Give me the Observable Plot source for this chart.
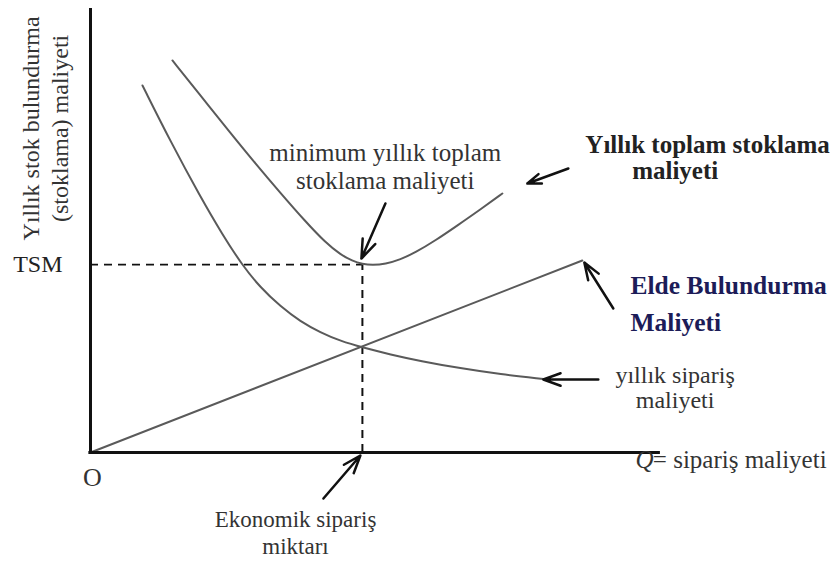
<!DOCTYPE html>
<html>
<head>
<meta charset="utf-8">
<script src="https://cdn.jsdelivr.net/npm/d3@7"></script>
<script src="https://cdn.jsdelivr.net/npm/@observablehq/plot@0.6"></script>
<style>
  html, body { margin: 0; padding: 0; background: #ffffff; }
  #chart svg { display: block; overflow: visible; }
</style>
</head>
<body>
<div id="chart"></div>
<script>
// ---- data (abstract units) ----
const orderQ    = [9.56, 14.71, 20.22, 24.26, 27.94, 31.25, 34.93, 38.6, 42.28, 45.96, 50, 55.15, 60.66, 68.01, 75.37, 83.27];
const orderCost = [82.66, 70.05, 57.55, 49.1, 42.12, 37.16, 32.88, 29.5, 27.03, 25.11, 23.65, 22.07, 20.59, 18.96, 17.61, 16.55];
const totalQ    = [15.07, 20.22, 25.74, 30.33, 34.93, 39.52, 43.2, 45.96, 48.16, 50, 51.84, 54.23, 56.99, 59.74, 63.42, 67.46, 71.69, 75.74];
const totalCost = [88.29, 80.41, 71.96, 65.09, 58.45, 52.03, 47.3, 44.59, 43.13, 42.45, 42.23, 42.45, 43.47, 45.05, 47.75, 51.13, 54.73, 58.33];
const holdQ     = [0, 90.44];
const holdCost  = [0, 43.24];
const EOQ = 50;
const TSM = 42.3;
const axisMaxQ = 104.8;
const axisMaxCost = 100;

// annotation arrows: start -> tip, in data units
const arrowX1 = [54.23, 87.87, 96.14, 93.38, 42.83];
const arrowY1 = [56.08, 63.96, 32.43, 16.44, -10.36];
const arrowX2 = [49.82, 80.33, 90.81, 83.27, 49.63];
const arrowY2 = [43.69, 60.59, 42.79, 16.44, -0.68];

// texts
const yTitle = "Yıllık stok bulundurma\n(stoklama) maliyeti";
const minLabel = "minimum yıllık toplam\nstoklama maliyeti";
const totalLabel = ["Yıllık toplam stoklama", "maliyeti"];
const holdLabel = ["Elde Bulundurma", "Maliyeti"];
const orderLabel = "yıllık sipariş\nmaliyeti";
const eoqLabel = "Ekonomik sipariş\nmiktarı";
const xLabelQ = "Q";
const xLabelRest = "= sipariş maliyeti";
const tsmLabel = "TSM";
const originLabel = "O";

// ---- build tables ----
const order = orderQ.map((q, i) => ({q, c: orderCost[i]}));
const total = totalQ.map((q, i) => ({q, c: totalCost[i]}));
const hold = holdQ.map((q, i) => ({q, c: holdCost[i]}));
const arrows = arrowX1.map((x1, i) => ({x1, y1: arrowY1[i], x2: arrowX2[i], y2: arrowY2[i]}));

const serif = "'Liberation Serif', 'Times New Roman', serif";
const textCol = "#333333";

const chart = Plot.plot({
  width: 840,
  height: 561,
  margin: 0,
  style: {background: "#ffffff", fontFamily: serif, overflow: "visible"},
  x: {domain: [0, 105], range: [90, 661], axis: null},
  y: {domain: [0, 100], range: [452, 8], axis: null},
  marks: [
    // dashed guides
    Plot.ruleY([TSM], {x1: 0, x2: EOQ, stroke: "#111", strokeWidth: 1.8, strokeDasharray: "8,6"}),
    Plot.ruleX([EOQ], {y1: 0, y2: TSM, stroke: "#111", strokeWidth: 2, strokeDasharray: "8,6"}),
    // cost curves
    Plot.line(hold, {x: "q", y: "c", stroke: "#5a5a5a", strokeWidth: 2}),
    Plot.line(order, {x: "q", y: "c", stroke: "#5a5a5a", strokeWidth: 2, curve: "basis"}),
    Plot.line(total, {x: "q", y: "c", stroke: "#5a5a5a", strokeWidth: 2, curve: "basis"}),
    // axes
    Plot.ruleX([0], {y1: 0, y2: axisMaxCost, stroke: "#111", strokeWidth: 3}),
    Plot.ruleY([0], {x1: -0.3, x2: axisMaxQ, stroke: "#111", strokeWidth: 3}),
    // arrows
    Plot.arrow(arrows, {x1: "x1", y1: "y1", x2: "x2", y2: "y2", stroke: "#111", strokeWidth: 2.5, headLength: 12, headAngle: 40}),
    // texts
    Plot.text([yTitle], {x: 0, y: 73, dx: -46, rotate: -90, fontSize: 24, lineHeight: 1.2, fill: textCol, textAnchor: "middle"}),
    Plot.text([tsmLabel], {x: 0, y: TSM, dx: -28, fontSize: 24, fill: "#222", textAnchor: "end"}),
    Plot.text([originLabel], {x: 0, y: 0, dx: 2, dy: 25, fontSize: 26, fill: textCol, textAnchor: "middle"}),
    Plot.text([minLabel], {x: 54.2, y: 64.5, fontSize: 25, lineHeight: 1.1, fill: textCol, textAnchor: "middle"}),
    Plot.text([totalLabel[0]], {x: 91.0, y: 69.3, fontSize: 25, fontWeight: "bold", fill: "#222", textAnchor: "start"}),
    Plot.text([totalLabel[1]], {x: 99.6, y: 63.4, fontSize: 25, fontWeight: "bold", fill: "#222", textAnchor: "start"}),
    Plot.text([holdLabel[0]], {x: 99.3, y: 37.6, fontSize: 25.5, fontWeight: "bold", fill: "#1c1c58", textAnchor: "start"}),
    Plot.text([holdLabel[1]], {x: 99.3, y: 29.3, fontSize: 25.5, fontWeight: "bold", fill: "#1c1c58", textAnchor: "start"}),
    Plot.text([orderLabel], {x: 107.5, y: 14.6, fontSize: 24, lineHeight: 1.05, fill: textCol, textAnchor: "middle"}),
    Plot.text([xLabelQ], {x: 100.2, y: -1.6, fontSize: 25, fontStyle: "italic", fill: textCol, textAnchor: "start"}),
    Plot.text([xLabelRest], {x: 103.4, y: -1.6, fontSize: 25, fill: textCol, textAnchor: "start"}),
    Plot.text([eoqLabel], {x: 37.7, y: -17.8, fontSize: 23, lineHeight: 1.2, fill: textCol, textAnchor: "middle"})
  ]
});
document.getElementById("chart").appendChild(chart);
</script>
</body>
</html>
